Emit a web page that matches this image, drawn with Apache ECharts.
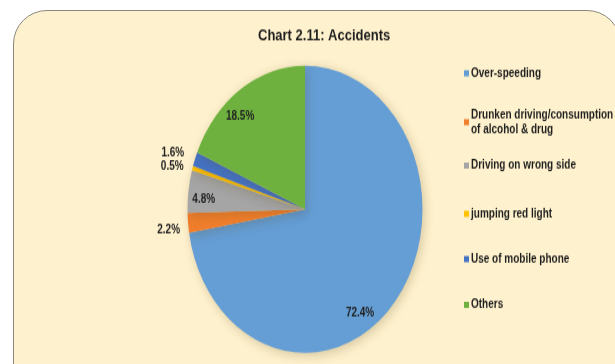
<!DOCTYPE html>
<html>
<head>
<meta charset="utf-8">
<title>Chart 2.11: Accidents</title>
<script src="https://cdn.jsdelivr.net/npm/echarts@6/dist/echarts.min.js"></script>
<style type="text/css">
	body{
		margin: 0;
		background: #ffffff;
	}
	div#frame{
		position: absolute;
		left: 13px;
		top: 10px;
		width: 606px;
		height: 400px;
		background: #FEF1CD;
		border: 1.5px solid #8a887e;
		border-radius: 34px;
	}
	div#chart{
		position: absolute;
		left: 0;
		top: 0;
		width: 615px;
		height: 298px;
		transform: scaleY(1.222);
		transform-origin: 0 0;
	}
</style>
</head>
<body>
<div id="frame"></div>
<div id="chart"></div>
<script type="text/javascript">
// data
var categories = ['Over-speeding', 'Drunken driving/consumption\nof alcohol & drug', 'Driving on wrong side', 'jumping red light', 'Use of mobile phone', 'Others'];
var shares = [72.4, 2.2, 4.8, 0.5, 1.6, 18.5];

// styling
var sliceColors = ['#659ED5', '#F07E2C', '#A5A5A5', '#FFC000', '#4472C4', '#6EB13F'];
var labelPos = ['inside', 'outside', 'inside', 'outside', 'outside', 'inside'];
var labelShift = [[8, 45], [3, 6], [-40, 0], [2, 0], [0, -3], [-31, -24]];
var legendTops = [49, 83, 124.5, 164, 201, 238.5];
var font = "'Liberation Sans Narrow', 'Liberation Sans', sans-serif";

var pieData = [];
var legends = [];
for (var i = 0; i < categories.length; i++) {
	pieData.push({
		name: categories[i],
		value: shares[i],
		itemStyle: { color: sliceColors[i] },
		label: { position: labelPos[i], offset: labelShift[i] }
	});
	legends.push({
		orient: 'vertical',
		left: 459,
		top: legendTops[i],
		itemWidth: 5,
		itemHeight: 5,
		icon: 'rect',
		data: [categories[i]],
		textStyle: {
			fontFamily: font,
			fontWeight: 'bold',
			fontSize: 10,
			lineHeight: 12,
			color: '#1e1e1e',
			padding: [0, 0, 0, -3]
		}
	});
}

var myChart = echarts.init(document.getElementById('chart'));
var option = {
	backgroundColor: 'transparent',
	animation: false,
	title: {
		text: 'Chart 2.11: Accidents',
		left: 253,
		top: 18,
		textStyle: {
			fontFamily: font,
			fontWeight: 'bold',
			fontSize: 13,
			color: '#1e1e1e'
		}
	},
	legend: legends,
	series: [{
		type: 'pie',
		center: [305, 171.3],
		radius: 117.5,
		startAngle: 90,
		clockwise: true,
		avoidLabelOverlap: false,
		labelLayout: { hideOverlap: false },
		data: pieData,
		itemStyle: {
			borderWidth: 0,
			shadowBlur: 10,
			shadowColor: 'rgba(90,70,20,0.25)',
			shadowOffsetX: 2,
			shadowOffsetY: 2
		},
		label: {
			show: true,
			formatter: function(p) {
				return p.value.toFixed(1) + '%';
			},
			fontFamily: font,
			fontWeight: 'bold',
			fontSize: 10,
			color: '#222222'
		},
		labelLine: {
			show: false,
			length: 4,
			length2: 2
		},
		emphasis: { disabled: true }
	}]
};
myChart.setOption(option);
</script>
</body>
</html>
